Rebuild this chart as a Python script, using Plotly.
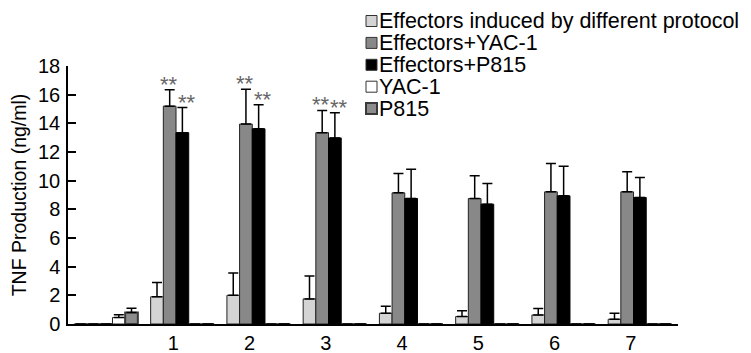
import plotly.graph_objects as go

groups = [0, 1, 2, 3, 4, 5, 6, 7]
tick_labels = ["1", "2", "3", "4", "5", "6", "7"]
tick_groups = [1, 2, 3, 4, 5, 6, 7]

names = ["Effectors induced by different protocol", "Effectors+YAC-1",
         "Effectors+P815", "YAC-1", "P815"]

eff = [0, 1.9, 2.0, 1.75, 0.75, 0.52, 0.63, 0.33]
eff_err = [None, 1.0, 1.55, 1.6, 0.48, 0.4, 0.46, 0.42]
eff_yac = [0, 15.2, 13.95, 13.35, 9.15, 8.75, 9.22, 9.22]
eff_yac_err = [None, 1.15, 2.43, 1.55, 1.35, 1.6, 1.98, 1.4]
eff_p815 = [0, 13.35, 13.62, 12.98, 8.76, 8.36, 8.94, 8.83]
eff_p815_err = [None, 1.75, 1.68, 1.75, 2.04, 1.44, 2.06, 1.39]
yac = [0.45, 0, 0, 0, 0, 0, 0, 0]
yac_err = [0.2, None, None, None, None, None, None, None]
p815 = [0.8, 0, 0, 0, 0, 0, 0, 0]
p815_err = [0.3, None, None, None, None, None, None, None]

stars_yac = [1, 2, 3]
stars_p815 = [1, 2, 3]

fills = ["#d4d4d4", "#888888", "#000000", "#ffffff", "#8c8c8c"]
edges = ["#222222", "#222222", "#000000", "#222222", "#3a3a3a"]
edge_w = [1, 1, 1, 1, 2]
values = [eff, eff_yac, eff_p815, yac, p815]
errors = [eff_err, eff_yac_err, eff_p815_err, yac_err, p815_err]

# The page body has an 8px margin, so layout is laid out in page pixels minus 8.
OFF = 8
W, H = 751, 353
plot_left, plot_right, plot_top, plot_bottom = 68, 678, 66, 324  # page pixels
L = plot_left - OFF
T = plot_top - OFF
R = W - (plot_right - OFF)
B = H - (plot_bottom - OFF)
pw, ph = W - L - R, H - T - B


def px_x(x):
    return (x - OFF - L) / pw


def px_y(y):
    return (H - B - (y - OFF)) / ph


fig = go.Figure()
for name, vals, errs, fill, line, lw in zip(names, values, errors, fills, edges, edge_w):
    fig.add_trace(go.Bar(
        x=groups, y=vals, name=name, showlegend=False,
        marker=dict(color=fill, line=dict(color=line, width=lw)),
        error_y=dict(type="data", array=errs, arrayminus=[0] * len(errs),
                     symmetric=False, color="#000000", thickness=1.5, width=5),
    ))

bar_w = (1 - 0.168) / 5
star_font = dict(size=22, color="#666666", family="Liberation Sans")
annots = []
for g in stars_yac:
    annots.append(dict(x=g - bar_w - 0.01, y=eff_yac[g] + eff_yac_err[g], text="**",
                       showarrow=False, yanchor="bottom", yshift=-9, font=star_font))
for g in stars_p815:
    annots.append(dict(x=g + 0.06, y=eff_p815[g] + eff_p815_err[g], text="**",
                       showarrow=False, yanchor="bottom", yshift=-9, font=star_font))

# manual legend (compact rows like the original)
leg_top, leg_step = 21, 21.9
shapes = []
for i, (name, fill, line) in enumerate(zip(names, fills, edges)):
    cy = leg_top + i * leg_step
    shapes.append(dict(type="rect", xref="paper", yref="paper",
                       x0=px_x(366), x1=px_x(377), y0=px_y(cy + 5.5), y1=px_y(cy - 5.5),
                       fillcolor=fill, line=dict(color="#333333" if i != 4 else "#3a3a3a",
                                                 width=1 if i != 4 else 2)))
    annots.append(dict(xref="paper", yref="paper", x=px_x(378), y=px_y(cy),
                       xanchor="left", yanchor="middle", text=name, showarrow=False,
                       borderpad=0, font=dict(size=21.5, color="#000000")))

fig.update_layout(
    width=W, height=H,
    margin=dict(l=L, r=R, t=T, b=B),
    barmode="group", bargap=0.168, bargroupgap=0,
    plot_bgcolor="white", paper_bgcolor="white",
    font=dict(family="Liberation Sans, Arial", size=20, color="#000000"),
    showlegend=False,
    annotations=annots,
    shapes=shapes,
    xaxis=dict(range=[-0.5, 7.5], tickvals=tick_groups, ticktext=tick_labels,
               ticklabelshift=-9, ticks="", showgrid=False, zeroline=False,
               showline=True, linecolor="#000000", linewidth=1.5,
               tickfont=dict(size=20), automargin=False),
    yaxis=dict(range=[0, 18], dtick=2, ticks="inside", ticklen=8, tickwidth=1.5,
               tickcolor="#000000", showgrid=False, zeroline=False,
               showline=True, linecolor="#000000", linewidth=1.5,
               tickfont=dict(size=20), automargin=False, ticklabelstandoff=2,
               title=dict(text="TNF Production (ng/ml)", font=dict(size=19.5), standoff=9)),
)

fig.write_html("out.html")
